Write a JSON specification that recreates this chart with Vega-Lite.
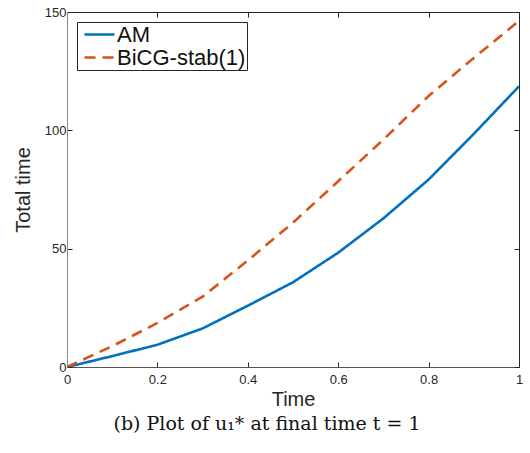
{
  "$schema": "https://vega.github.io/schema/vega-lite/v6.json",
  "width": 452,
  "height": 355,
  "autosize": {"type": "none"},
  "padding": {"left": 67, "top": 12, "right": 11, "bottom": 86},
  "background": "white",
  "config": {
    "view": {"stroke": null},
    "font": "Liberation Sans",
    "axis": {
      "grid": false,
      "domainColor": "#262626",
      "tickColor": "#262626",
      "labelColor": "#262626",
      "titleColor": "#262626",
      "labelFontSize": 13,
      "titleFontSize": 20,
      "titleFontWeight": "normal",
      "tickSize": -5,
      "domainWidth": 1,
      "tickWidth": 1,
      "labelFlush": false
    }
  },
  "title": {
    "text": "(b) Plot of u₁* at final time t = 1",
    "orient": "bottom",
    "anchor": "middle",
    "frame": "group",
    "dx": -26,
    "offset": 6,
    "font": "DejaVu Serif",
    "fontSize": 19,
    "fontWeight": "normal",
    "color": "#111"
  },
  "data": {
    "values": [
      {"series": "AM", "t": 0, "v": 0},
      {"series": "AM", "t": 0.1, "v": 4.6},
      {"series": "AM", "t": 0.2, "v": 9.4},
      {"series": "AM", "t": 0.3, "v": 16.3},
      {"series": "AM", "t": 0.4, "v": 25.9},
      {"series": "AM", "t": 0.5, "v": 35.8},
      {"series": "AM", "t": 0.6, "v": 48.3},
      {"series": "AM", "t": 0.7, "v": 62.8},
      {"series": "AM", "t": 0.8, "v": 79.2},
      {"series": "AM", "t": 0.9, "v": 98.5},
      {"series": "AM", "t": 1, "v": 118.6},
      {"series": "BiCG-stab(1)", "t": 0, "v": 0},
      {"series": "BiCG-stab(1)", "t": 0.1, "v": 8.8},
      {"series": "BiCG-stab(1)", "t": 0.2, "v": 18.6},
      {"series": "BiCG-stab(1)", "t": 0.3, "v": 29.7},
      {"series": "BiCG-stab(1)", "t": 0.4, "v": 45.0},
      {"series": "BiCG-stab(1)", "t": 0.5, "v": 61.0},
      {"series": "BiCG-stab(1)", "t": 0.6, "v": 78.5},
      {"series": "BiCG-stab(1)", "t": 0.7, "v": 96.1},
      {"series": "BiCG-stab(1)", "t": 0.8, "v": 114.5},
      {"series": "BiCG-stab(1)", "t": 0.9, "v": 130.6},
      {"series": "BiCG-stab(1)", "t": 1, "v": 146.2}
    ]
  },
  "layer": [
    {
      "mark": {"type": "line", "strokeWidth": 2.6, "clip": true},
      "encoding": {
        "x": {
          "field": "t", "type": "quantitative",
          "scale": {"domain": [0, 1], "nice": false, "zero": false},
          "axis": {"orient": "bottom", "title": "Time", "values": [0, 0.2, 0.4, 0.6, 0.8, 1], "format": "~g", "labelPadding": 11, "titlePadding": 3, "domainColor": "#555"}
        },
        "y": {
          "field": "v", "type": "quantitative",
          "scale": {"domain": [0, 150], "nice": false},
          "axis": {"orient": "left", "title": "Total time", "values": [0, 50, 100, 150], "labelPadding": 6, "titlePadding": 11, "domainColor": "#888"}
        },
        "color": {
          "field": "series", "type": "nominal",
          "scale": {"domain": ["AM", "BiCG-stab(1)"], "range": ["#0072BD", "#D95319"]},
          "legend": {
            "title": null,
            "orient": "top-left",
            "offset": 10,
            "strokeColor": "#262626",
            "fillColor": "white",
            "padding": 1,
            "labelFontSize": 22,
            "labelColor": "#111",
            "labelOffset": 11,
            "symbolType": "M-1,0H2",
            "symbolSize": 400,
            "symbolOffset": 5,
            "symbolStrokeWidth": 2.6,
            "rowPadding": -1
          }
        },
        "strokeDash": {
          "field": "series", "type": "nominal",
          "scale": {"domain": ["AM", "BiCG-stab(1)"], "range": [[1, 0], [11, 7]]},
          "legend": {
            "title": null,
            "orient": "top-left",
            "offset": 10,
            "strokeColor": "#262626",
            "fillColor": "white",
            "padding": 1,
            "labelFontSize": 22,
            "labelColor": "#111",
            "labelOffset": 11,
            "symbolType": "M-1,0H2",
            "symbolSize": 400,
            "symbolOffset": 5,
            "symbolStrokeWidth": 2.6,
            "rowPadding": -1
          }
        }
      }
    },
    {
      "mark": {"type": "line", "opacity": 0},
      "encoding": {
        "x": {
          "field": "t", "type": "quantitative",
          "axis": {"orient": "top", "title": null, "labels": false, "values": [0, 0.2, 0.4, 0.6, 0.8, 1]}
        },
        "y": {
          "field": "v", "type": "quantitative",
          "axis": {"orient": "right", "title": null, "labels": false, "values": [0, 50, 100, 150]}
        },
        "detail": {"field": "series"}
      }
    }
  ],
  "resolve": {"axis": {"x": "independent", "y": "independent"}}
}
